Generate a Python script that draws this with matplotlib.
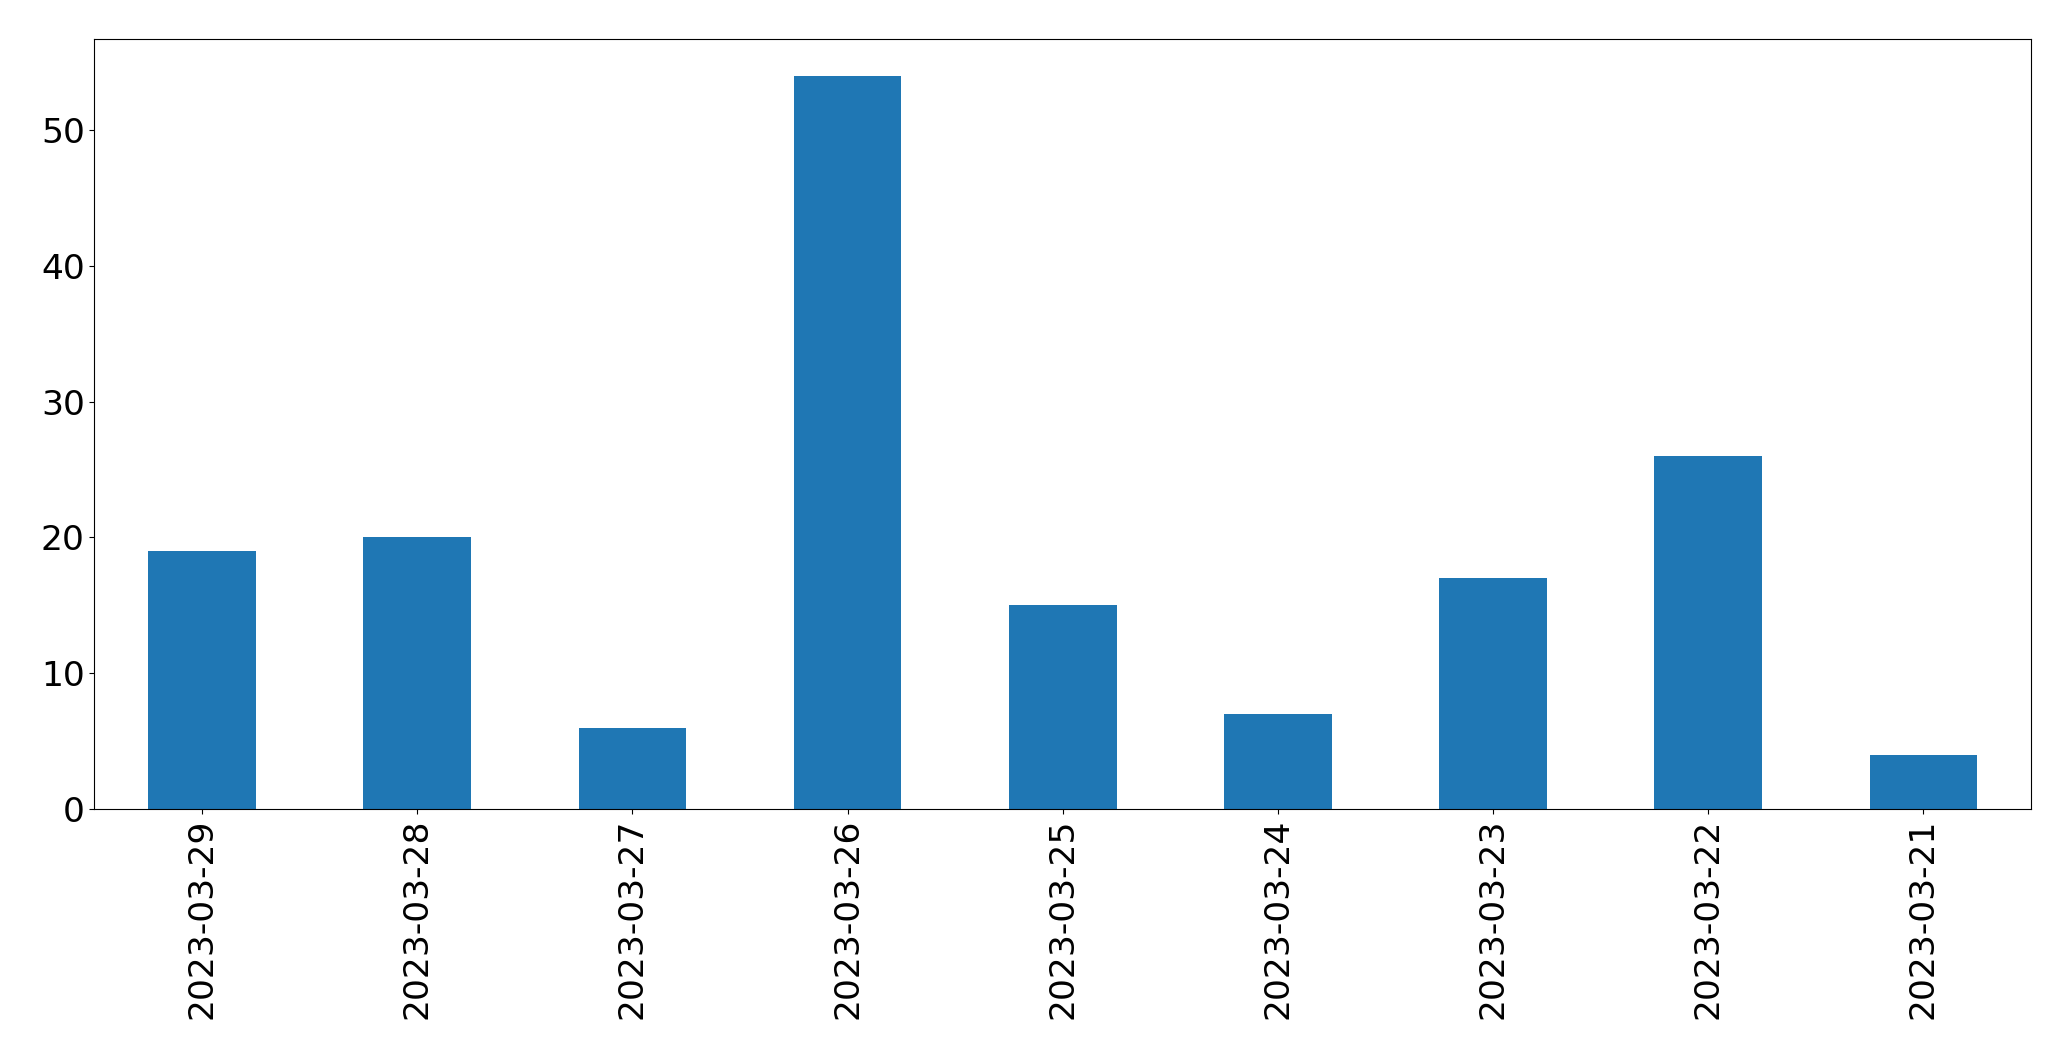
import matplotlib
matplotlib.use("Agg")
import matplotlib.pyplot as plt

# daily counts, in the order shown
dates = ["2023-03-29", "2023-03-28", "2023-03-27", "2023-03-26", "2023-03-25",
         "2023-03-24", "2023-03-23", "2023-03-22", "2023-03-21"]
counts = [19, 20, 6, 54, 15, 7, 17, 26, 4]

fig = plt.figure(figsize=(20.71, 10.61), dpi=100)
ax = fig.add_axes([0.0456, 0.2375, 0.9351, 0.7257])

pos = list(range(len(dates)))
ax.bar(pos, counts, width=0.5, color="#1f77b4")
ax.set_xlim(-0.5, len(dates) - 0.5)
ax.set_xticks(pos)
ax.set_xticklabels(dates, rotation=90)
ax.tick_params(labelsize=24.8)

fig.savefig("out.png", dpi=100)
